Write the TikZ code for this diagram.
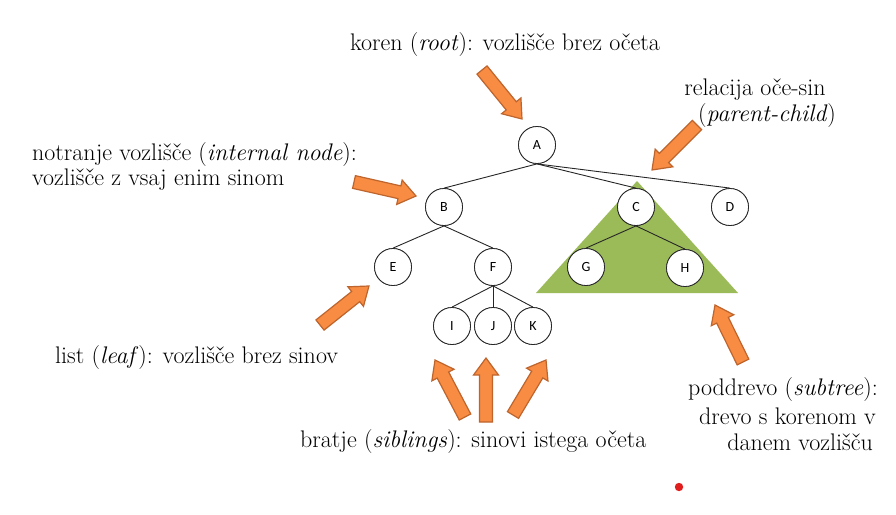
\documentclass[tikz,border=0pt]{standalone}
\usepackage{fontspec}
\newfontfamily\nodefont{Carlito}
\usetikzlibrary{calc}
\definecolor{orfill}{RGB}{247,140,66}
\definecolor{ordraw}{RGB}{190,100,45}
\definecolor{trigreen}{RGB}{155,187,89}
\definecolor{reddot}{RGB}{225,30,30}
\tikzset{
  tnode/.style={circle, draw=black!85, fill=white, line width=0.8pt, minimum size=37pt, inner sep=0pt, font=\nodefont\fontsize{14}{16}\selectfont},
  edge/.style={draw=black!85, line width=0.9pt},
  label/.style={inner sep=0pt, font=\fontsize{24}{28}\selectfont},
  barrowstyle/.style={fill=orfill, draw=ordraw, line width=1.2pt, line join=miter},
}
\newcommand\barrow[2]{%
  \path[barrowstyle]
    ($(#1)!6.5pt!90:(#2)$) --
    ($($(#2)!17pt!(#1)$)!6.5pt!-90:(#1)$) --
    ($($(#2)!17pt!(#1)$)!12.5pt!-90:(#1)$) --
    (#2) --
    ($($(#2)!17pt!(#1)$)!12.5pt!90:(#1)$) --
    ($($(#2)!17pt!(#1)$)!6.5pt!90:(#1)$) --
    ($(#1)!6.5pt!-90:(#2)$) -- cycle;}
\begin{document}
\begin{tikzpicture}[x=1pt,y=-1pt]
\useasboundingbox (0,0) rectangle (896,514);
% subtree triangle
\coordinate (tA) at (637,181);
\coordinate (tL) at (536,293);
\coordinate (tR) at (738,293);
\fill[trigreen] (tA) -- (tL) -- (tR) -- cycle;
% nodes
\node[tnode] (A) at (537,145) {A};
\node[tnode] (B) at (444,207) {B};
\node[tnode] (C) at (636,207) {C};
\node[tnode] (D) at (730,207) {D};
\node[tnode] (E) at (393,267) {E};
\node[tnode] (F) at (493,267) {F};
\node[tnode] (G) at (586,267) {G};
\node[tnode] (H) at (685,268) {H};
\node[tnode] (I) at (452,326) {I};
\node[tnode] (J) at (493,326) {J};
\node[tnode] (K) at (533,326) {K};
% edges
\foreach \c in {B,C,D} \draw[edge] (A.south) -- (\c.north);
\foreach \c in {E,F} \draw[edge] (B.south) -- (\c.north);
\foreach \c in {G,H} \draw[edge] (C.south) -- (\c.north);
\foreach \c in {I,J,K} \draw[edge] (F.south) -- (\c.north);
% redraw nodes over edges
\foreach \n/\p in {A/{537,145},B/{444,207},C/{636,207},D/{730,207},E/{393,267},F/{493,267},G/{586,267},H/{685,268},I/{452,326},J/{493,326},K/{533,326}}
  \node[tnode] at (\p) {\n};
% arrow endpoints
\coordinate (r1) at (482,70);   \coordinate (r2) at (522,119);
\coordinate (i1) at (354,182);  \coordinate (i2) at (416,196);
\coordinate (l1) at (320,325);  \coordinate (l2) at (369,286);
\coordinate (p1) at (697,125);  \coordinate (p2) at (652,170);
\coordinate (s1) at (743,362);  \coordinate (s2) at (715,305);
\coordinate (b11) at (465,417); \coordinate (b12) at (435,360);
\coordinate (b21) at (486,422); \coordinate (b22) at (486,358);
\coordinate (b31) at (513,415); \coordinate (b32) at (546,360);
\barrow{r1}{r2}
\barrow{i1}{i2}
\barrow{l1}{l2}
\barrow{p1}{p2}
\barrow{s1}{s2}
\barrow{b11}{b12}
\barrow{b21}{b22}
\barrow{b31}{b32}
% labels
\node[label] (tkoren) at (505,45) {koren (\textit{root}): vozlišče brez očeta};
\node[label] (trel1) at (755,90) {relacija oče-sin};
\node[label] (trel2) at (767,116) {(\textit{parent-child})};
\node[label, anchor=west] (tint1) at (32,155) {notranje vozlišče (\textit{internal node}):};
\node[label, anchor=west] (tint2) at (32,180) {vozlišče z vsaj enim sinom};
\node[label, anchor=west] (tleaf) at (55,358) {list (\textit{leaf}): vozlišče brez sinov};
\node[label, anchor=west] (tsib) at (300,442) {bratje (\textit{siblings}): sinovi istega očeta};
\node[label, anchor=east] (tsub1) at (878,390) {poddrevo (\textit{subtree}):};
\node[label, anchor=east] (tsub2) at (876,416) {drevo s korenom v};
\node[label, anchor=east] (tsub3) at (873,442) {danem vozlišču};
% red dot
\fill[reddot] (679,487) circle (4.2);
\end{tikzpicture}
\end{document}
